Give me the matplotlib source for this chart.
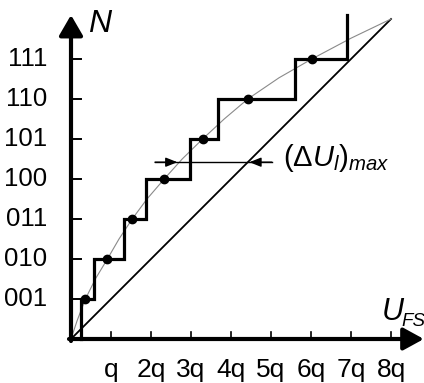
import matplotlib
matplotlib.use('Agg')
import matplotlib.pyplot as plt

plt.rcParams['font.family'] = 'Liberation Sans'
plt.rcParams['mathtext.fontset'] = 'custom'
plt.rcParams['mathtext.rm'] = 'Liberation Sans'
plt.rcParams['mathtext.it'] = 'Liberation Sans:italic'

# staircase (transfer characteristic), x in units of q, y in code steps
step_x = [0.25, 0.25, 0.58, 0.58, 1.33, 1.33, 1.87, 1.87, 2.98, 2.98, 3.67, 3.67, 5.59, 5.59, 6.9, 6.9]
step_y = [0, 1, 1, 2, 2, 3, 3, 4, 4, 5, 5, 6, 6, 7, 7, 8.1]

# dots on the curve
dot_x = [0.36, 0.91, 1.53, 2.33, 3.29, 4.42, 6.02]
dot_y = [1, 2, 3, 4, 5, 6, 7]

# thin gray curve through the dots
curve_x = [0, 0.15, 0.36, 0.62, 0.91, 1.2, 1.53, 1.9, 2.33, 2.78, 3.29, 3.83, 4.42, 5.2, 6.02, 7.0, 8.0]
curve_y = [0, 0.45, 1, 1.52, 2, 2.5, 3, 3.5, 4, 4.5, 5, 5.5, 6, 6.53, 7, 7.52, 8.0]

# ideal line
ideal_x = [0, 8]
ideal_y = [0, 8]

ytick_pos = [1, 2, 3, 4, 5, 6, 7]
ytick_lab = ['001', '010', '011', '100', '101', '110', '111']
xtick_pos = [1, 2, 3, 4, 5, 6, 7, 8]
xtick_lab = ['q', '2q', '3q', '4q', '5q', '6q', '7q', '8q']

err_y = 4.42
err_x0, err_x1 = 2.1, 5.02
err_tip_a, err_tip_b = 2.66, 4.46

fig = plt.figure(figsize=(4.24, 3.83), dpi=100)
ax = fig.add_axes([0, 0, 1, 1])
ax.set_xlim(-71 / 40, 353 / 40)
ax.set_ylim(-44 / 40, 339 / 40)
ax.axis('off')

# axes with arrows
ax.annotate('', xy=(8.82, 0), xytext=(-0.05, 0), annotation_clip=False,
            arrowprops=dict(arrowstyle='-|>,head_length=0.62,head_width=0.34',
                            lw=3.0, color='black', mutation_scale=20, shrinkA=0, shrinkB=0))
ax.annotate('', xy=(0, 8.1), xytext=(0, -0.05), annotation_clip=False,
            arrowprops=dict(arrowstyle='-|>,head_length=0.62,head_width=0.36',
                            lw=3.0, color='black', mutation_scale=20, shrinkA=0, shrinkB=0))

for y, lab in zip(ytick_pos, ytick_lab):
    ax.plot([0, 0.25], [y, y], color='black', lw=1.4)
    ax.text(-0.6, y, lab, ha='right', va='center', fontsize=18.5)
for x, lab in zip(xtick_pos, xtick_lab):
    ax.plot([x, x], [0, 0.18], color='black', lw=1.2)
    ax.text(x, -0.48, lab, ha='center', va='top', fontsize=19)

ax.plot(ideal_x, ideal_y, color='black', lw=1.3)
ax.plot(curve_x, curve_y, color='#8a8a8a', lw=0.8)
ax.plot(step_x, step_y, color='black', lw=2.3, solid_joinstyle='miter')
ax.plot(dot_x, dot_y, 'o', color='black', markersize=6)

# max error indicator
ax.plot([err_x0, err_x1], [err_y, err_y], color='black', lw=1.0)
ax.annotate('', xy=(err_tip_a, err_y), xytext=(err_x0, err_y),
            arrowprops=dict(arrowstyle='-|>,head_length=0.5,head_width=0.2',
                            lw=1.0, color='black', mutation_scale=14, shrinkA=0, shrinkB=0))
ax.annotate('', xy=(err_tip_b, err_y), xytext=(err_x1, err_y),
            arrowprops=dict(arrowstyle='-|>,head_length=0.5,head_width=0.2',
                            lw=1.0, color='black', mutation_scale=14, shrinkA=0, shrinkB=0))
ax.text(5.3, 4.32, r'$(\Delta U_l)_{max}$', ha='left', va='baseline', fontsize=21)

ax.text(0.43, 7.68, 'N', style='italic', fontsize=23, ha='left', va='baseline')
ax.text(7.76, 0.47, 'U', style='italic', fontsize=22, ha='left', va='baseline')
ax.text(8.26, 0.33, 'FS', style='italic', fontsize=13.5, ha='left', va='baseline')

fig.savefig('out.png', dpi=100)
